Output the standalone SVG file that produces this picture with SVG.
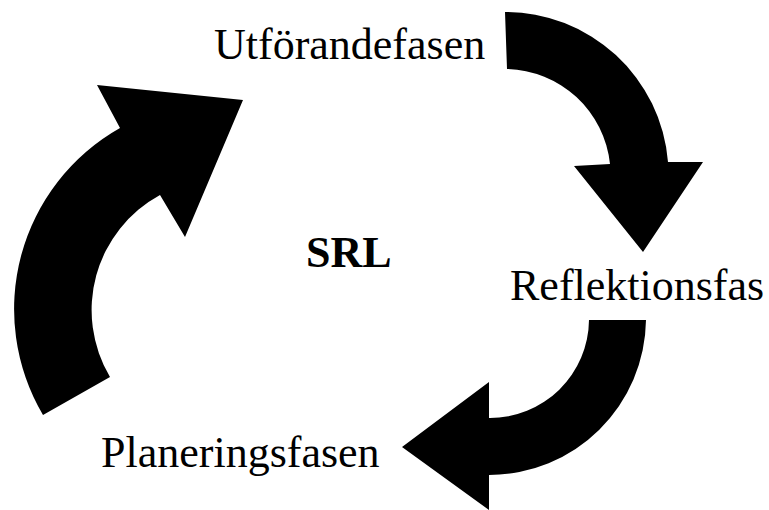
<svg xmlns="http://www.w3.org/2000/svg" width="769" height="510" viewBox="0 0 769 510">
<style>
.lbl{font-family:"Liberation Serif","Times New Roman",serif;font-size:44px;fill:#000}
.b{font-weight:bold}
.arr{fill:#000;stroke:none}
</style>
<rect width="769" height="510" fill="#fff"/>
<g id="connectors">
<path class="arr" d="M43,415 A208,208 0 0 1 120,128 L97,85 L243,100 L185,237 L160,195 A131,131 0 0 0 110,377 Z"/>
<path class="arr" d="M505,12 A163,163 0 0 1 668,162 L703,162 L643,252 L574,166 L610,164 A106,106 0 0 0 507,69 Z"/>
<path class="arr" d="M646,320 A157,157 0 0 1 489,475 L489,510 L402,447 L489,382 L489,418 A99,99 0 0 0 589,320 Z"/>
</g>
<g id="utforandefasen"><text class="lbl" x="214" y="59">Utförandefasen</text></g>
<g id="reflektionsfas"><text class="lbl" x="510" y="300">Reflektionsfas</text></g>
<g id="planeringsfasen"><text class="lbl" x="101" y="467">Planeringsfasen</text></g>
<g id="srl"><text class="lbl b" x="306" y="267">SRL</text></g>
</svg>
